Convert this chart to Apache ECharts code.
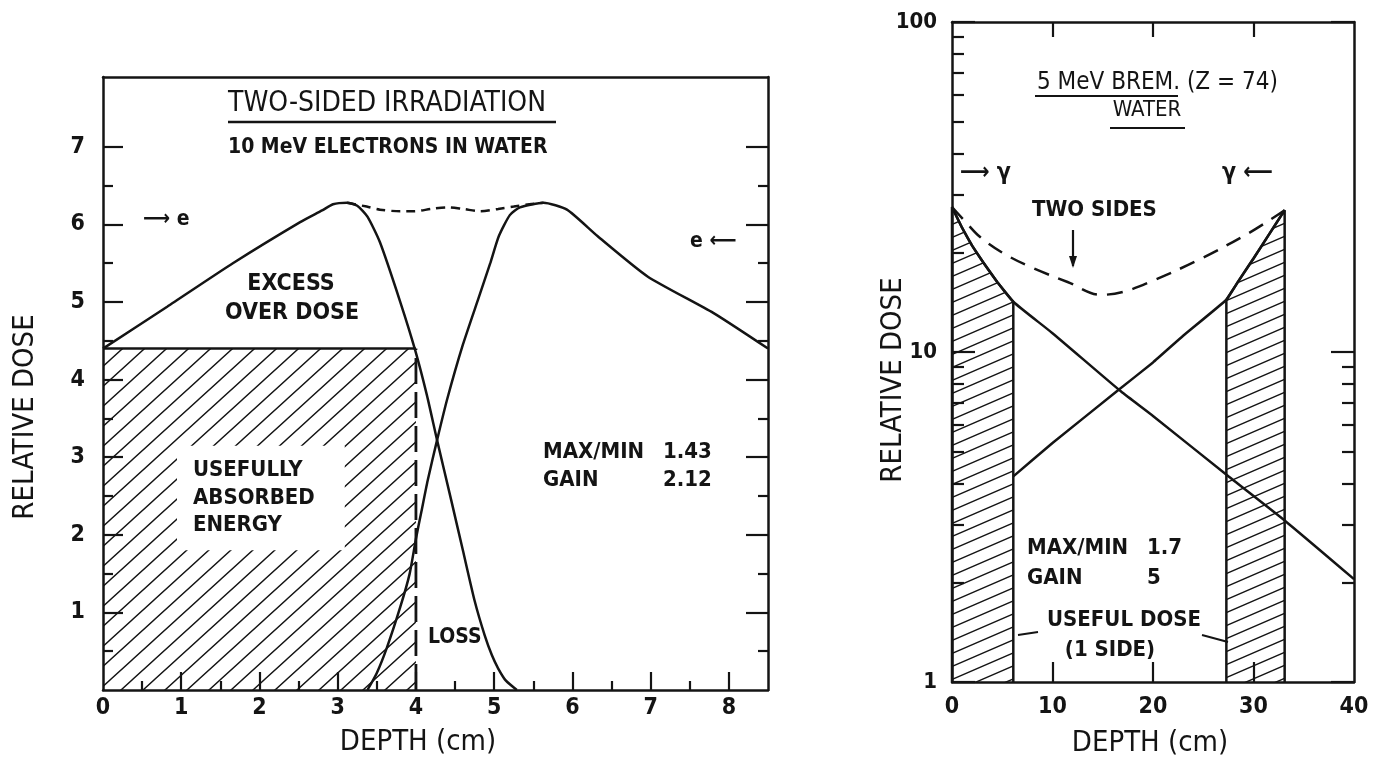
<!DOCTYPE html>
<html>
<head>
<meta charset="utf-8">
<script src="https://cdn.jsdelivr.net/npm/echarts@6/dist/echarts.min.js"></script>
<style>
html,body{margin:0;padding:0;background:#fff;}
#chart{width:1373px;height:758px;}
</style>
</head>
<body>
<div id="chart"></div>
<script>
// ---------- Left panel: 10 MeV electrons, two-sided irradiation ----------
const leftDepthA = [0,0.82,1.66,2.52,2.8,2.94,3.12,3.25,3.38,3.54,3.8,3.99,4.14,4.27,4.45,4.6,4.75,4.88,4.97,5.05,5.15,5.29];
const leftDoseA  = [4.4,4.94,5.5,6.03,6.18,6.26,6.28,6.24,6.1,5.77,5.0,4.38,3.8,3.22,2.45,1.8,1.15,0.7,0.45,0.28,0.12,0];
const leftDepthB = [3.38,3.5,3.63,3.8,3.92,4.0,4.07,4.15,4.27,4.4,4.6,4.8,4.95,5.06,5.2,5.33,5.63,5.93,6.32,6.96,7.8,8.5];
const leftDoseB  = [0,0.22,0.55,1.07,1.5,1.95,2.3,2.7,3.22,3.75,4.45,5.05,5.5,5.85,6.12,6.22,6.28,6.19,5.85,5.33,4.86,4.4];
const leftDepthSum = [3.12,3.37,3.54,3.8,3.97,4.2,4.4,4.6,4.82,5.05,5.25,5.45,5.63];
const leftDoseSum  = [6.28,6.23,6.19,6.17,6.17,6.2,6.22,6.2,6.17,6.2,6.23,6.26,6.28];
const leftUsefulDepth = [0,4.0];
const leftUsefulLevel = 4.4;
const leftXLabels = [0,1,2,3,4,5,6,7,8];
const leftXMajor  = [1,2,3,4,5,6,7,8];
const leftXMinor  = [0.5,1.5,2.5,3.5,4.5,5.5,6.5,7.5];
const leftYLabels = [1,2,3,4,5,6,7];
const leftYMinor  = [0.5,1.5,2.5,3.5,4.5,5.5,6.5];

// ---------- Right panel: 5 MeV bremsstrahlung in water (log) ----------
const rightDepthL = [0,1,2,3.1,4.5,6.1,10,16.8,20,27.5,33.3,40];
const rightDoseL  = [27.5,23.8,21,18.7,16.3,14.2,11.4,7.6,6.4,4.2,3.05,2.05];
const rightDepthR = [6.1,10,16.4,20,23,27.3,28.5,30,31.5,33.1];
const rightDoseR  = [4.2,5.3,7.6,9.3,11.2,14.4,16.4,19.2,22.6,26.9];
const rightDepthSum = [0,1.5,2.8,5,7.8,11.5,14.8,17,19.5,24.5,29.5,33.1];
const rightDoseSum  = [27.5,24.5,22.3,20,18.1,16.3,14.9,15.2,16.2,19,22.9,26.9];
const rightUsefulBands = [[0,6.1],[27.3,33.1]];
const rightXLabels = [0,10,20,30,40];
const rightXMajor  = [10,20,30];
const rightYMinorLeft  = [2,3,4,5,6,7,8,9,20,30,40,50,60,70,80,90];
const rightYMinorRight = [2,3,4,5,6,7,8,9];

// ---------- helpers ----------
const INK = '#141414';
const FONT = "'Liberation Sans Narrow','DejaVu Sans Condensed','DejaVu Sans',sans-serif";
const zip = (xs, ys) => xs.map((x, i) => [x, ys[i]]);

function hatch(w, h, lw) {
  const c = document.createElement('canvas');
  c.width = w; c.height = h;
  const g = c.getContext('2d');
  g.strokeStyle = INK; g.lineWidth = lw;
  g.beginPath();
  for (let k = 0; k < 3; k++) {
    g.moveTo(-w, (k + 1) * h);
    g.lineTo(2 * w, (k - 2) * h);
  }
  g.stroke();
  return c;
}
const hatchLeft = hatch(22, 20, 1.4);
const hatchRight = hatch(30, 13, 1.4);

function bandData(band, xs, ys) {
  const pts = zip(xs, ys).filter(p => p[0] >= band[0] && p[0] <= band[1]);
  return [[band[0], 1]].concat(pts, [[band[1], 1]]);
}

const tickStyle = {color: INK, width: 2.2};
function mkAxis(o) {
  return Object.assign({
    type: 'value', splitLine: {show: false},
    axisLine: {show: false, onZero: false, lineStyle: {color: INK, width: 2.5}},
    axisLabel: {show: false},
    axisTick: {show: false}
  }, o);
}
function ticks(values, len) {
  return {show: true, inside: true, length: len, customValues: values, lineStyle: tickStyle};
}
const labelStyle = (vals, margin) => ({show: true, customValues: vals, margin: margin, color: INK,
  fontFamily: FONT, fontWeight: 'bold', fontSize: 23});

const xAxis = [
  mkAxis({gridIndex: 0, position: 'bottom', min: 0, max: 8.5,
    axisLine: {show: true, onZero: false, lineStyle: {color: INK, width: 2.5}},
    axisTick: ticks(leftXMajor, 18), axisLabel: labelStyle(leftXLabels, 7)}),
  mkAxis({gridIndex: 0, position: 'bottom', min: 0, max: 8.5, axisTick: ticks(leftXMinor, 9)}),
  mkAxis({gridIndex: 0, position: 'top', min: 0, max: 8.5,
    axisLine: {show: true, onZero: false, lineStyle: {color: INK, width: 2.5}}}),
  mkAxis({gridIndex: 1, position: 'bottom', min: 0, max: 40,
    axisLine: {show: true, onZero: false, lineStyle: {color: INK, width: 2.5}},
    axisTick: ticks(rightXMajor, 20), axisLabel: labelStyle(rightXLabels, 14)}),
  mkAxis({gridIndex: 1, position: 'top', min: 0, max: 40,
    axisLine: {show: true, onZero: false, lineStyle: {color: INK, width: 2.5}},
    axisTick: ticks(rightXMajor, 15)})
];
const yAxis = [
  mkAxis({gridIndex: 0, position: 'left', min: 0, max: 7.9,
    axisLine: {show: true, onZero: false, lineStyle: {color: INK, width: 2.5}},
    axisTick: ticks(leftYLabels, 20), axisLabel: labelStyle(leftYLabels, 18)}),
  mkAxis({gridIndex: 0, position: 'left', min: 0, max: 7.9, axisTick: ticks(leftYMinor, 10)}),
  mkAxis({gridIndex: 0, position: 'right', min: 0, max: 7.9,
    axisLine: {show: true, onZero: false, lineStyle: {color: INK, width: 2.5}},
    axisTick: ticks(leftYLabels, 22)}),
  mkAxis({gridIndex: 0, position: 'right', min: 0, max: 7.9, axisTick: ticks(leftYMinor, 10)}),
  {type: 'log', logBase: 10, gridIndex: 1, position: 'left', min: 1, max: 100,
    splitLine: {show: false}, minorTick: {show: false},
    axisLine: {show: true, onZero: false, lineStyle: {color: INK, width: 2.5}},
    axisTick: {show: true, inside: true, length: 23, lineStyle: tickStyle},
    axisLabel: {show: true, margin: 15, color: INK, fontFamily: FONT, fontWeight: 'bold', fontSize: 22}},
  mkAxis({gridIndex: 1, position: 'left', min: 0, max: 2,
    axisTick: ticks(rightYMinorLeft.map(v => Math.log10(v)), 12)}),
  {type: 'log', logBase: 10, gridIndex: 1, position: 'right', min: 1, max: 100,
    splitLine: {show: false},
    axisLine: {show: true, onZero: false, lineStyle: {color: INK, width: 2.5}},
    axisTick: {show: true, inside: true, length: 23, lineStyle: tickStyle},
    axisLabel: {show: false}},
  mkAxis({gridIndex: 1, position: 'right', min: 0, max: 2,
    axisTick: ticks(rightYMinorRight.map(v => Math.log10(v)), 12)})
];

const lineBase = {type: 'line', symbol: 'none', animation: false, silent: true};
const series = [
  // left panel
  Object.assign({}, lineBase, {name: 'useful', xAxisIndex: 0, yAxisIndex: 0, z: 1,
    data: leftUsefulDepth.map(x => [x, leftUsefulLevel]),
    lineStyle: {color: INK, width: 2.5},
    areaStyle: {color: {image: hatchLeft, repeat: 'repeat'}, opacity: 1, origin: 'start'}}),
  Object.assign({}, lineBase, {name: 'edge', xAxisIndex: 0, yAxisIndex: 0, z: 2,
    data: [[leftUsefulDepth[1], 0], [leftUsefulDepth[1], leftUsefulLevel]],
    lineStyle: {color: INK, width: 2.8, type: [26, 8]}}),
  Object.assign({}, lineBase, {name: 'A', xAxisIndex: 0, yAxisIndex: 0, z: 3, smooth: 0.2,
    data: zip(leftDepthA, leftDoseA), lineStyle: {color: INK, width: 2.5}}),
  Object.assign({}, lineBase, {name: 'B', xAxisIndex: 0, yAxisIndex: 0, z: 3, smooth: 0.2,
    data: zip(leftDepthB, leftDoseB), lineStyle: {color: INK, width: 2.5}}),
  Object.assign({}, lineBase, {name: 'sum', xAxisIndex: 0, yAxisIndex: 0, z: 3, smooth: 0.3,
    data: zip(leftDepthSum, leftDoseSum), lineStyle: {color: INK, width: 2.5, type: [9, 6]}}),
  // right panel
  Object.assign({}, lineBase, {name: 'band1', xAxisIndex: 3, yAxisIndex: 4, z: 1,
    data: bandData(rightUsefulBands[0], rightDepthL, rightDoseL),
    lineStyle: {color: INK, width: 2.5},
    areaStyle: {color: {image: hatchRight, repeat: 'repeat'}, opacity: 1, origin: 'start'}}),
  Object.assign({}, lineBase, {name: 'band2', xAxisIndex: 3, yAxisIndex: 4, z: 1,
    data: bandData(rightUsefulBands[1], rightDepthR, rightDoseR),
    lineStyle: {color: INK, width: 2.5},
    areaStyle: {color: {image: hatchRight, repeat: 'repeat'}, opacity: 1, origin: 'start'}}),
  Object.assign({}, lineBase, {name: 'L', xAxisIndex: 3, yAxisIndex: 4, z: 3, smooth: 0.2,
    data: zip(rightDepthL, rightDoseL), lineStyle: {color: INK, width: 2.5}}),
  Object.assign({}, lineBase, {name: 'R', xAxisIndex: 3, yAxisIndex: 4, z: 3, smooth: 0.1,
    data: zip(rightDepthR, rightDoseR), lineStyle: {color: INK, width: 2.5}}),
  Object.assign({}, lineBase, {name: 'twoSides', xAxisIndex: 3, yAxisIndex: 4, z: 3, smooth: 0.35,
    data: zip(rightDepthSum, rightDoseSum), lineStyle: {color: INK, width: 2.5, type: [16, 10]}})
];

function txt(text, x, y, size, opts) {
  opts = opts || {};
  const st = {text: text, fill: INK, fontFamily: FONT, fontSize: size,
      fontWeight: opts.weight || 'bold',
      textAlign: opts.align || 'left', align: opts.align || 'left',
      textVerticalAlign: 'middle', verticalAlign: 'middle'};
  if (opts.lineHeight) st.lineHeight = opts.lineHeight;
  if (opts.bg) { st.backgroundColor = opts.bg; st.padding = opts.padding; }
  return {type: 'text', x: x, y: y, rotation: opts.rot || 0, silent: true, z: 10, style: st};
}
function ln(x1, y1, x2, y2, w) {
  return {type: 'line', silent: true, z: 10, shape: {x1: x1, y1: y1, x2: x2, y2: y2},
    style: {stroke: INK, lineWidth: w || 2.2}};
}

const graphic = [
  // left panel text
  txt('TWO-SIDED IRRADIATION', 228, 104, 28, {weight: 'normal'}),
  ln(228, 122, 556, 122, 2.5),
  txt('10 MeV ELECTRONS IN WATER', 228, 148, 21),
  txt('\u27F6 e', 143, 220, 21),
  txt('e \u27F5', 690, 242, 21),
  txt('EXCESS', 291, 284, 23, {align: 'center'}),
  txt('OVER DOSE', 292, 313, 23, {align: 'center'}),
  txt('USEFULLY\nABSORBED\nENERGY', 177, 498, 22,
    {lineHeight: 27.5, bg: '#ffffff', padding: [11, 30, 11, 16]}),
  txt('MAX/MIN', 543, 452, 22),
  txt('1.43', 663, 452, 22),
  txt('GAIN', 543, 480, 22),
  txt('2.12', 663, 480, 22),
  txt('LOSS', 428, 638, 21),
  txt('RELATIVE DOSE', 25, 417, 29, {rot: Math.PI / 2, align: 'center', weight: 'normal'}),
  txt('DEPTH (cm)', 418, 742, 29, {align: 'center', weight: 'normal'}),
  // right panel text
  txt('5 MeV BREM. (Z = 74)', 1037, 83, 24, {weight: 'normal'}),
  ln(1035, 96, 1178, 96, 2.2),
  txt('WATER', 1147, 110, 22, {align: 'center', weight: 'normal'}),
  ln(1110, 128, 1185, 128, 2.2),
  txt('\u27F6 \u03B3', 960, 173, 23),
  txt('\u03B3 \u27F5', 1222, 173, 23),
  txt('TWO SIDES', 1032, 210, 22),
  ln(1073, 230, 1073, 266, 2.2),
  {type: 'polygon', silent: true, z: 10, shape: {points: [[1069, 256], [1077, 256], [1073, 268]]},
    style: {fill: INK}},
  txt('MAX/MIN', 1027, 548, 22),
  txt('1.7', 1147, 548, 22),
  txt('GAIN', 1027, 578, 22),
  txt('5', 1147, 578, 22),
  txt('USEFUL DOSE', 1047, 620, 22),
  txt('(1 SIDE)', 1110, 650, 22, {align: 'center'}),
  ln(1018, 635, 1038, 632, 2),
  ln(1202, 635, 1228, 642, 2),
  txt('RELATIVE DOSE', 893, 380, 29, {rot: Math.PI / 2, align: 'center', weight: 'normal'}),
  txt('DEPTH (cm)', 1150, 743, 29, {align: 'center', weight: 'normal'})
];

const chart = echarts.init(document.getElementById('chart'), null, {renderer: 'canvas'});
chart.setOption({
  backgroundColor: '#ffffff',
  animation: false,
  grid: [
    {left: 103, top: 77, width: 665, height: 613, containLabel: false},
    {left: 952, top: 22, width: 402, height: 660, containLabel: false}
  ],
  xAxis: xAxis,
  yAxis: yAxis,
  series: series,
  graphic: graphic
});
</script>
</body>
</html>
